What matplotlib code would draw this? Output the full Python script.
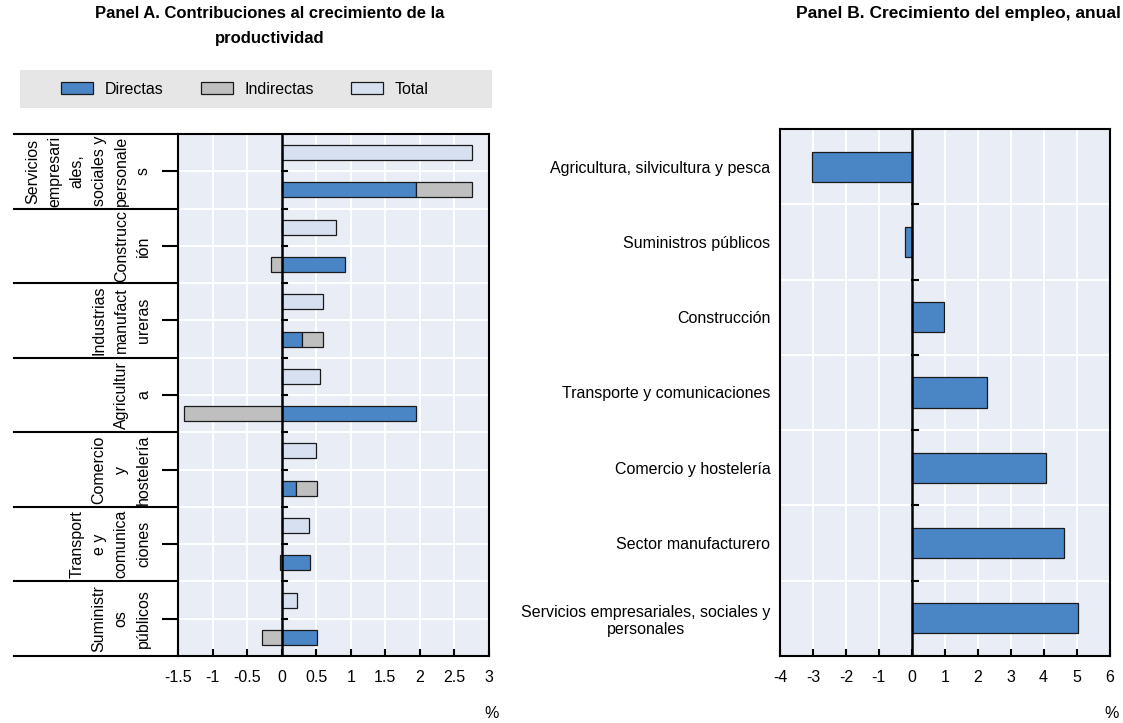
import numpy as np
import matplotlib
matplotlib.use("Agg")
import matplotlib.pyplot as plt
from matplotlib.patches import Patch, Rectangle

plt.rcParams['font.family'] = ['Liberation Sans Narrow', 'Liberation Sans', 'DejaVu Sans']
plt.rcParams['font.size'] = 11.5
plt.rcParams['axes.unicode_minus'] = False

# ---- data, panel A (top to bottom)
sectors_a = ["Servicios\nempresari\nales,\nsociales y\npersonale\ns",
             "Construcc\nión",
             "Industrias\nmanufact\nureras",
             "Agricultur\na",
             "Comercio\ny\nhostelería",
             "Transport\ne y\ncomunica\nciones",
             "Suministr\nos\npúblicos"]
directas = [1.94, 0.92, 0.30, 1.95, 0.21, 0.41, 0.51]
indirectas = [0.81, -0.15, 0.30, -1.41, 0.30, -0.02, -0.29]
total = [2.75, 0.78, 0.60, 0.55, 0.50, 0.40, 0.22]

# ---- data, panel B (top to bottom)
sectors_b = ["Agricultura, silvicultura y pesca",
             "Suministros públicos",
             "Construcción",
             "Transporte y comunicaciones",
             "Comercio y hostelería",
             "Sector manufacturero",
             "Servicios empresariales, sociales y\npersonales"]
empleo = [-3.02, -0.21, 0.97, 2.28, 4.06, 4.61, 5.04]

c_dir = '#4A86C6'
c_ind = '#BFBFBF'
c_tot = '#D6E0F1'
bg = '#E9EDF6'
edge = '#1a1a1a'

fig = plt.figure(figsize=(11.23, 7.23), dpi=100)
W, H = 1123.0, 723.0

def style_axes(ax):
    ax.set_facecolor(bg)
    for s in ax.spines.values():
        s.set_color('black')
        s.set_linewidth(1.5)
    ax.tick_params(axis='x', direction='in', length=5, width=1.5, pad=10)
    ax.grid(True, axis='x', color='white', linewidth=1.5)
    ax.set_axisbelow(True)

# ================= Panel A
axA = fig.add_axes([178 / W, 1 - 656 / H, 311 / W, 522 / H])
style_axes(axA)
n = len(sectors_a)
y = np.arange(n)
h = 0.2
axA.barh(y - 0.25, total, height=h, color=c_tot, edgecolor=edge, linewidth=0.9)
axA.barh(y + 0.25, directas, height=h, color=c_dir, edgecolor=edge, linewidth=0.9)
ind_left = [d if i > 0 else 0 for d, i in zip(directas, indirectas)]
axA.barh(y + 0.25, indirectas, left=ind_left, height=h, color=c_ind, edgecolor=edge, linewidth=0.9)
axA.set_xlim(-1.5, 3)
axA.set_ylim(n - 0.5, -0.5)
xt = np.arange(-1.5, 3.01, 0.5)
axA.set_xticks(xt)
axA.set_xticklabels(['%g' % v for v in xt])
axA.set_yticks(y)
axA.set_yticklabels([])
axA.tick_params(axis='y', direction='out', length=11.5, width=1.5)
for yy in np.arange(-0.5, n, 0.5):
    axA.axhline(yy, color='white', linewidth=1.5, zorder=0.5)
    axA.plot([0, 0.075], [yy, yy], color='black', linewidth=1.5, zorder=4)
axA.axvline(0, color='black', linewidth=1.8, zorder=4)
tr = axA.get_yaxis_transform()
for yy in np.arange(-0.5, n + 0.1, 1):
    axA.plot([-164 / 311, 0], [yy, yy], color='black', linewidth=1.5,
             transform=tr, clip_on=False)
for i, lab in enumerate(sectors_a):
    axA.text(-27 / 311, i, lab, transform=tr, rotation=90, ha='right', va='center',
             multialignment='center', linespacing=1.6)

# ================= Panel B
axB = fig.add_axes([780 / W, 1 - 656 / H, 329.5 / W, 527 / H])
style_axes(axB)
yb = np.arange(len(sectors_b))
axB.barh(yb, empleo, height=0.4, color=c_dir, edgecolor=edge, linewidth=0.9)
axB.set_xlim(-4, 6)
axB.set_ylim(len(sectors_b) - 0.5, -0.5)
axB.set_xticks(np.arange(-4, 7, 1))
axB.set_yticks(yb)
axB.set_yticklabels(sectors_b, ha='right', multialignment='center')
axB.tick_params(axis='y', length=0, pad=7)
for yy in np.arange(-0.5, len(sectors_b), 1):
    axB.axhline(yy, color='white', linewidth=1.5, zorder=0.5)
    axB.plot([0, 0.18], [yy, yy], color='black', linewidth=1.5, zorder=4)
axB.axvline(0, color='black', linewidth=1.8, zorder=4)

# ================= titles, legend, units
fig.text(270 / W, 1 - 6 / H, "Panel A. Contribuciones al crecimiento de la\nproductividad",
         ha='center', va='top', fontweight='bold', fontsize=12, linespacing=1.8)
fig.text(1121 / W, 1 - 6 / H, "Panel B. Crecimiento del empleo, anual",
         ha='right', va='top', fontweight='bold', fontsize=12.5)

fig.patches.append(Rectangle((20 / W, 1 - 108 / H), 472 / W, 38 / H,
                             transform=fig.transFigure, facecolor='#E6E6E6',
                             edgecolor='none', zorder=0))
handles = [Patch(facecolor=c_dir, edgecolor=edge, linewidth=0.9),
           Patch(facecolor=c_ind, edgecolor=edge, linewidth=0.9),
           Patch(facecolor=c_tot, edgecolor=edge, linewidth=0.9)]
fig.legend(handles, ['Directas', 'Indirectas', 'Total'], loc='center',
           bbox_to_anchor=(245 / W, 1 - 89 / H), ncol=3, frameon=False,
           handlelength=2.0, handleheight=0.75, handletextpad=0.75,
           columnspacing=2.3)

fig.text(492 / W, 1 - 714 / H, '%', ha='center', va='center')
fig.text(1112 / W, 1 - 714 / H, '%', ha='center', va='center')

fig.savefig('out.png', dpi=100)
